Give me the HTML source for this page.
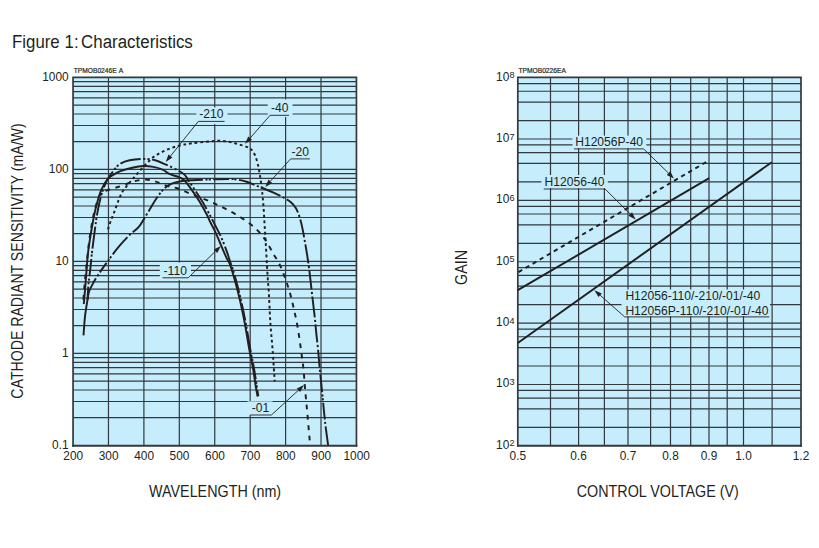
<!DOCTYPE html><html><head><meta charset="utf-8"><title>Figure 1</title>
<style>html,body{margin:0;padding:0;background:#fff;}body{width:819px;height:548px;overflow:hidden;}svg{display:block;font-family:"Liberation Sans",sans-serif;}text{fill:#231f20}</style></head><body>
<svg width="819" height="548" viewBox="0 0 819 548">
<rect x="0" y="0" width="819" height="548" fill="#fff"/>
<text transform="translate(12.10,48.10) scale(0.955,1)" font-size="17.60" text-anchor="start">Figure</text>
<text transform="translate(64.60,48.10) scale(0.950,1)" font-size="17.60" text-anchor="start">1:</text>
<text transform="translate(81.10,48.10) scale(0.960,1)" font-size="17.60" text-anchor="start">Characteristics</text>
<rect x="73.05" y="77.40" width="283.40" height="368.00" fill="#c6edfb"/>
<path d="M73.05 169.40H356.45M73.05 141.71H356.45M73.05 125.50H356.45M73.05 114.01H356.45M73.05 105.09H356.45M73.05 97.81H356.45M73.05 91.65H356.45M73.05 86.32H356.45M73.05 81.61H356.45M73.05 261.40H356.45M73.05 233.71H356.45M73.05 217.50H356.45M73.05 206.01H356.45M73.05 197.09H356.45M73.05 189.81H356.45M73.05 183.65H356.45M73.05 178.32H356.45M73.05 173.61H356.45M73.05 353.40H356.45M73.05 325.71H356.45M73.05 309.50H356.45M73.05 298.01H356.45M73.05 289.09H356.45M73.05 281.81H356.45M73.05 275.65H356.45M73.05 270.32H356.45M73.05 265.61H356.45M73.05 417.71H356.45M73.05 401.50H356.45M73.05 390.01H356.45M73.05 381.09H356.45M73.05 373.81H356.45M73.05 367.65H356.45M73.05 362.32H356.45M73.05 357.61H356.45M108.47 77.40V445.40M143.90 77.40V445.40M179.32 77.40V445.40M214.75 77.40V445.40M250.18 77.40V445.40M285.60 77.40V445.40M321.02 77.40V445.40" stroke="#33383e" stroke-width="1.2" fill="none"/>
<path d="M73.05 76.55V446.80M356.45 76.55V446.80M73.05 77.40H356.45" stroke="#33383e" stroke-width="1.7" fill="none"/>
<path d="M72.20 445.75H357.30" stroke="#33383e" stroke-width="2.1" fill="none"/>
<rect x="196.3" y="107.5" width="31.2" height="16.6" fill="#c6edfb"/>
<rect x="267.7" y="99.4" width="24.9" height="17.6" fill="#c6edfb"/>
<rect x="159.8" y="262.5" width="31.2" height="17.7" fill="#c6edfb"/>
<rect x="247.5" y="401.3" width="25.0" height="13.6" fill="#c6edfb"/>
<g fill="none" stroke="#231f20" stroke-width="1.95" stroke-linejoin="round">
<path d="M83.8 304.0C84.0 301.7 84.6 294.8 85.0 290.0C85.4 285.2 85.8 280.5 86.2 275.0C86.6 269.5 87.1 262.3 87.6 257.0C88.1 251.7 88.4 249.2 89.3 243.3C90.2 237.4 91.8 227.7 93.0 221.3C94.2 214.9 95.2 210.0 96.6 204.8C98.0 199.6 99.3 194.4 101.2 190.1C103.1 185.8 105.7 181.4 108.0 178.7C110.3 176.0 112.8 175.2 114.9 173.9C117.0 172.7 117.3 172.3 120.4 171.2C123.5 170.1 129.5 168.4 133.3 167.5C137.1 166.6 140.0 166.1 143.3 166.0C146.7 165.9 150.2 166.3 153.4 166.9C156.6 167.5 159.8 168.5 162.6 169.7C165.3 170.9 167.2 172.9 169.9 174.2C172.6 175.4 176.6 176.1 179.0 177.2C181.4 178.2 182.3 178.3 184.5 180.5C186.7 182.7 189.5 186.7 191.9 190.1C194.3 193.5 196.8 197.1 199.2 201.1C201.6 205.1 204.7 210.6 206.5 214.0C208.3 217.4 208.5 218.4 210.0 221.5C211.5 224.6 213.7 228.4 215.5 232.3C217.3 236.2 219.2 240.8 221.0 245.1C222.8 249.4 225.0 254.6 226.5 257.9C228.0 261.2 228.6 260.5 230.1 264.7C231.6 268.9 233.9 276.9 235.6 283.0C237.3 289.1 238.7 294.6 240.2 301.3C241.7 308.0 243.3 315.2 244.8 323.3C246.3 331.4 248.0 342.5 249.4 350.0C250.8 357.5 251.9 362.2 253.0 368.3C254.1 374.4 255.0 381.9 255.8 386.6C256.6 391.3 257.3 395.0 257.6 396.7"/>
<path d="M87.5 300.0C87.7 297.5 88.0 290.0 88.4 285.0C88.9 280.0 89.6 275.4 90.2 270.0C90.8 264.6 91.2 259.0 92.0 252.4C92.8 245.8 93.9 237.1 94.8 230.4C95.7 223.7 96.4 217.9 97.5 212.1C98.6 206.3 99.8 200.5 101.2 195.6C102.6 190.7 104.1 186.5 105.8 182.8C107.5 179.2 109.8 176.0 111.3 173.7C112.8 171.4 113.4 170.7 114.9 169.0C116.4 167.3 118.0 165.0 120.4 163.6C122.9 162.2 125.8 161.1 129.6 160.3C133.4 159.5 139.0 158.9 143.3 158.9C147.6 158.9 151.4 159.3 155.2 160.3C159.0 161.3 162.5 163.1 166.2 164.7C169.9 166.3 174.1 168.2 177.2 169.9C180.2 171.6 182.7 172.9 184.5 174.6C186.3 176.3 186.7 177.8 188.2 180.1C189.7 182.4 191.6 185.1 193.7 188.3C195.8 191.5 198.3 194.8 201.0 199.3C203.7 203.8 207.6 210.9 210.0 215.3C212.4 219.7 213.7 222.3 215.5 225.9C217.3 229.5 219.2 232.7 221.0 236.8C222.8 240.9 225.0 246.5 226.5 250.6C228.0 254.7 229.0 258.4 230.1 261.6C231.2 264.8 231.8 266.3 233.0 270.0C234.2 273.7 235.6 278.8 237.0 284.0C238.4 289.2 239.7 294.8 241.2 301.3C242.7 307.9 244.3 315.2 245.8 323.3C247.3 331.4 249.0 342.5 250.4 350.0C251.8 357.5 252.9 362.2 254.0 368.3C255.1 374.4 256.1 382.0 256.8 386.6C257.5 391.2 258.1 394.4 258.3 396.0" stroke-dasharray="13.3 2.5 2.2 1.5 2.2 2.5 17.1 2.5 2.2 1.2 2.2 2.5 21.8 2.5 2.2 1.9 2.2 2.5 18.3 2.5 2.2 1.4 2.2 2.5 18.2 2.5 2.2 1.7 2.2 2.5 20.8 2.5 2.2 2.1 2.2 2.5 16.8 2.5 2.2 2.7 2.2 2.5 15.9 2.5 2.2 2.2 2.2 2.5 20.3 2.5 2.2 2.0 2.2 2.5 19.1 2.5 2.2 2.0 2.2 2.5 19.6 2.5 2.2 1.5 2.2 2.5 18.0 2.5 2.2 1.6 2.2 2.5 17.4 2.5 2.2 1.7 2.2 2.5 21.1 2.5 2.2 1.9 2.2 2.5 16.1 2.5 2.2 1.4 2.2 2.5 6.3 999.0"/>
<path d="M108.0 229.5C108.5 227.8 110.1 222.7 111.3 219.5C112.5 216.3 113.7 213.5 114.9 210.3C116.1 207.1 117.4 203.2 118.6 200.2C119.8 197.1 120.8 194.6 122.3 192.0C123.8 189.4 126.0 187.0 127.8 184.7C129.6 182.4 131.2 180.7 133.3 178.2C135.4 175.7 138.2 172.6 140.6 169.9C143.0 167.2 145.5 164.4 147.9 162.1C150.3 159.8 152.1 157.9 155.2 155.9C158.2 153.9 162.2 151.7 166.2 150.0C170.2 148.3 174.7 146.8 179.0 145.7C183.3 144.6 186.7 144.0 191.9 143.3C197.1 142.6 205.4 141.9 210.0 141.5C214.6 141.1 216.1 140.8 219.2 140.8C222.2 140.8 225.2 141.2 228.3 141.7C231.4 142.2 234.4 143.2 237.5 144.0C240.6 144.8 244.3 145.9 246.6 146.8C248.9 147.7 249.8 148.1 251.2 149.5C252.6 150.9 253.8 152.7 254.9 155.0C256.0 157.3 256.8 160.4 257.6 163.3C258.4 166.2 258.9 169.4 259.5 172.4C260.1 175.4 260.4 178.3 260.9 181.6C261.3 184.9 261.8 187.8 262.2 192.0C262.6 196.2 263.1 201.1 263.5 206.6C263.9 212.1 264.2 218.3 264.6 224.9C265.0 231.5 265.4 237.2 265.9 246.0C266.4 254.8 267.2 269.2 267.7 277.5C268.2 285.8 268.6 288.2 269.0 295.8C269.4 303.4 269.8 314.3 270.4 323.3C271.0 332.3 271.9 340.3 272.6 350.0C273.3 359.7 274.4 376.2 274.7 381.5" stroke-dasharray="2.8 2.9"/>
<path d="M83.2 304.0C83.4 300.8 83.9 291.5 84.5 285.0C85.1 278.5 85.9 271.9 86.6 265.0C87.3 258.1 88.0 250.3 88.9 243.3C89.8 236.3 90.9 229.2 92.0 223.1C93.1 217.0 94.3 211.3 95.7 206.6C97.1 201.9 98.3 197.4 100.3 194.7C102.3 191.9 104.5 191.4 107.6 190.1C110.6 188.8 114.9 188.0 118.6 186.8C122.3 185.6 126.5 183.8 129.6 182.8C132.7 181.8 134.2 181.2 136.9 180.6C139.7 180.0 143.1 179.4 146.1 179.5C149.1 179.6 151.8 180.4 155.2 181.4C158.5 182.4 162.5 184.4 166.2 185.6C169.9 186.8 173.5 187.1 177.2 188.3C180.9 189.5 184.5 191.4 188.2 192.9C191.9 194.4 195.6 195.7 199.2 197.1C202.8 198.5 206.7 200.1 210.0 201.5C213.3 202.9 216.1 204.2 219.2 205.7C222.2 207.2 225.2 208.7 228.3 210.3C231.4 211.9 234.4 213.6 237.5 215.4C240.6 217.2 243.5 219.1 246.6 221.3C249.7 223.5 253.1 226.0 255.8 228.6C258.6 231.2 261.0 234.1 263.1 236.8C265.2 239.6 266.8 242.0 268.6 245.1C270.4 248.2 272.4 252.3 274.1 255.2C275.8 258.1 277.0 259.1 278.7 262.5C280.4 265.9 282.4 270.7 284.2 275.6C286.0 280.5 288.0 286.3 289.7 292.1C291.4 297.9 292.8 304.3 294.2 310.4C295.6 316.5 296.8 322.2 297.9 328.8C299.0 335.4 300.1 343.4 301.0 350.0C301.9 356.6 302.7 361.6 303.4 368.3C304.1 375.0 304.5 382.7 305.2 390.3C305.9 397.9 306.6 405.6 307.4 414.1C308.2 422.7 309.4 437.0 309.8 441.6" stroke-dasharray="4.8 5.5" stroke-dashoffset="-4.4"/>
<path d="M83.5 335.4C83.8 332.1 84.4 321.7 85.1 315.7C85.8 309.7 86.9 303.4 87.6 299.3C88.3 295.2 88.2 293.9 89.2 291.1C90.2 288.4 91.8 285.6 93.3 282.8C94.8 280.1 95.8 278.3 98.3 274.6C100.8 270.9 104.9 265.1 108.3 260.5C111.7 255.9 115.0 251.2 118.6 246.9C122.1 242.7 126.2 238.3 129.6 235.0C133.0 231.7 136.4 229.6 138.8 226.8C141.2 224.1 142.4 221.4 144.2 218.5C146.0 215.6 147.5 212.9 149.7 209.4C151.8 205.9 154.6 201.0 157.1 197.5C159.6 194.0 162.0 190.6 164.4 188.3C166.8 186.0 168.9 184.9 171.7 183.7C174.4 182.5 177.5 181.8 180.9 181.2C184.3 180.6 187.1 180.5 191.9 180.2C196.8 179.9 203.9 179.7 210.0 179.5C216.1 179.3 223.7 179.0 228.3 179.0C232.9 179.0 234.4 179.1 237.5 179.6C240.6 180.1 243.5 180.8 246.6 181.8C249.7 182.8 252.8 184.2 255.8 185.4C258.9 186.6 261.8 187.8 264.9 189.0C267.9 190.2 271.0 191.5 274.1 192.9C277.2 194.3 280.6 196.0 283.3 197.5C286.1 199.0 288.5 200.3 290.6 202.1C292.7 203.9 294.6 205.9 296.1 208.5C297.6 211.1 298.6 214.2 299.7 217.6C300.8 220.9 301.6 224.3 302.5 228.6C303.4 232.9 304.4 239.0 305.2 243.3C305.9 247.6 306.4 250.3 307.0 254.2C307.6 258.1 308.1 260.8 308.9 266.8C309.7 272.8 310.7 282.4 311.6 290.3C312.5 298.2 313.6 307.1 314.4 314.1C315.2 321.1 315.6 326.4 316.2 332.4C316.8 338.4 317.5 343.7 318.1 350.0C318.7 356.3 319.2 363.1 319.9 370.1C320.6 377.1 321.2 383.6 322.1 392.1C323.0 400.7 324.0 412.5 325.0 421.4C326.0 430.2 327.6 441.2 328.1 445.2" stroke-dasharray="59.4 2.5 2.2 2.5 11.2 2.5 2.2 1.2 2.2 2.5 22.6 2.5 2.2 2.5 19.5 2.5 2.2 2.5 17.1 2.5 2.2 1.9 2.2 2.5 39.7 2.5 2.2 1.1 2.2 2.5 15.7 2.5 2.2 0.6 2.2 2.5 16.3 2.5 2.2 2.5 20.9 2.5 2.2 2.5 17.9 2.5 2.2 2.5 18.1 2.5 2.2 2.5 19.4 2.5 2.2 2.5 18.9 2.5 2.2 2.5 20.8 2.5 2.2 2.5 18.3 2.5 2.2 2.5 17.6 2.5 2.2 2.5 17.7 2.5 2.2 1.4 2.2 2.5 16.6 2.5 2.2 2.5 19.1 999.0"/>
</g>
<text x="199.3" y="118.3" font-size="12.1">-210</text>
<path d="M198.3 121.4H224.6" stroke="#231f20" stroke-width="0.9"/>
<path d="M198.3 121.4 L170.5 156.1" stroke="#231f20" stroke-width="0.9" fill="none"/><path d="M165.7 162.0 L168.5 154.5 L172.4 157.6 Z" fill="#231f20"/>
<text x="271.1" y="112.2" font-size="12.1">-40</text>
<path d="M270.0 115.3H289.0" stroke="#231f20" stroke-width="0.9"/>
<path d="M270.1 115.3 L250.1 138.1" stroke="#231f20" stroke-width="0.9" fill="none"/><path d="M245.1 143.8 L248.2 136.4 L252.0 139.7 Z" fill="#231f20"/>
<text x="291.6" y="155.8" font-size="12.1">-20</text>
<path d="M290.6 158.9H309.8" stroke="#231f20" stroke-width="0.9"/>
<path d="M290.6 158.9 L270.4 181.2" stroke="#231f20" stroke-width="0.9" fill="none"/><path d="M265.3 186.9 L268.5 179.6 L272.2 182.9 Z" fill="#231f20"/>
<text x="163.6" y="275.4" font-size="12.1">-110</text>
<path d="M162.6 277.8H188.2" stroke="#231f20" stroke-width="0.9"/>
<path d="M188.2 277.8 L215.5 251.2" stroke="#231f20" stroke-width="0.9" fill="none"/><path d="M220.9 245.9 L217.2 253.0 L213.8 249.4 Z" fill="#231f20"/>
<text x="251.7" y="412.2" font-size="12.1">-01</text>
<path d="M250.3 415.0H271.4" stroke="#231f20" stroke-width="0.9"/>
<path d="M271.4 415.0 L298.5 390.2" stroke="#231f20" stroke-width="0.9" fill="none"/><path d="M304.1 385.1 L300.1 392.1 L296.8 388.4 Z" fill="#231f20"/>
<text transform="translate(73.25,459.50) scale(0.950,1)" font-size="12.50" text-anchor="middle">200</text>
<text transform="translate(108.67,459.50) scale(0.950,1)" font-size="12.50" text-anchor="middle">300</text>
<text transform="translate(144.10,459.50) scale(0.950,1)" font-size="12.50" text-anchor="middle">400</text>
<text transform="translate(179.52,459.50) scale(0.950,1)" font-size="12.50" text-anchor="middle">500</text>
<text transform="translate(214.95,459.50) scale(0.950,1)" font-size="12.50" text-anchor="middle">600</text>
<text transform="translate(250.38,459.50) scale(0.950,1)" font-size="12.50" text-anchor="middle">700</text>
<text transform="translate(285.80,459.50) scale(0.950,1)" font-size="12.50" text-anchor="middle">800</text>
<text transform="translate(321.22,459.50) scale(0.950,1)" font-size="12.50" text-anchor="middle">900</text>
<text transform="translate(356.65,459.50) scale(0.950,1)" font-size="12.50" text-anchor="middle">1000</text>
<text transform="translate(68.60,81.30) scale(0.950,1)" font-size="12.50" text-anchor="end">1000</text>
<text transform="translate(68.60,173.30) scale(0.950,1)" font-size="12.50" text-anchor="end">100</text>
<text transform="translate(68.60,265.30) scale(0.950,1)" font-size="12.50" text-anchor="end">10</text>
<text transform="translate(68.60,357.30) scale(0.950,1)" font-size="12.50" text-anchor="end">1</text>
<text transform="translate(68.60,449.30) scale(0.950,1)" font-size="12.50" text-anchor="end">0.1</text>
<text x="73.8" y="73.1" font-size="7.1" stroke="#231f20" stroke-width="0.2" textLength="42.8" lengthAdjust="spacingAndGlyphs">TPMOB0246E</text>
<text x="118.7" y="73.1" font-size="7.1" stroke="#231f20" stroke-width="0.2" textLength="4.5" lengthAdjust="spacingAndGlyphs">A</text>
<text transform="translate(215.10,496.90) scale(0.885,1)" font-size="16.20" text-anchor="middle">WAVELENGTH (nm)</text>
<text transform="translate(23.2,261) rotate(-90) scale(0.872,1)" font-size="16.2" text-anchor="middle">CATHODE RADIANT SENSITIVITY (mA/W)</text>
<rect x="517.80" y="77.40" width="283.20" height="368.20" fill="#c6edfb"/>
<path d="M517.80 427.38H801.00M517.80 408.90H801.00M517.80 398.10H801.00M517.80 390.43H801.00M517.80 384.48H801.00M517.80 366.01H801.00M517.80 347.54H801.00M517.80 336.73H801.00M517.80 329.06H801.00M517.80 323.12H801.00M517.80 304.64H801.00M517.80 286.17H801.00M517.80 275.36H801.00M517.80 267.70H801.00M517.80 261.75H801.00M517.80 243.28H801.00M517.80 224.80H801.00M517.80 214.00H801.00M517.80 206.33H801.00M517.80 200.38H801.00M517.80 181.91H801.00M517.80 163.44H801.00M517.80 152.63H801.00M517.80 144.96H801.00M517.80 139.02H801.00M517.80 120.54H801.00M517.80 102.07H801.00M517.80 91.26H801.00M517.80 83.60H801.00M550.50 77.40V445.60M578.60 77.40V445.60M604.40 77.40V445.60M628.00 77.40V445.60M650.60 77.40V445.60M670.50 77.40V445.60M690.70 77.40V445.60M709.00 77.40V445.60M727.20 77.40V445.60M743.50 77.40V445.60M772.10 77.40V445.60" stroke="#33383e" stroke-width="1.2" fill="none"/>
<path d="M517.80 76.55V446.80M801.00 76.55V446.80M517.80 77.40H801.00" stroke="#33383e" stroke-width="1.7" fill="none"/>
<path d="M516.95 445.75H801.85" stroke="#33383e" stroke-width="2.1" fill="none"/>
<rect x="572.5" y="135.6" width="73.8" height="12.6" fill="#c6edfb"/>
<rect x="541.4" y="175.0" width="66.4" height="13.3" fill="#c6edfb"/>
<rect x="621.5" y="289.5" width="148.5" height="26.7" fill="#c6edfb"/>
<g fill="none" stroke="#231f20" stroke-width="1.95">
<path d="M517.8 272.5L706.6 161.8" stroke-dasharray="4.3 3.9" stroke-dashoffset="-0.8"/>
<path d="M517.8 290.2L709.2 178.2"/>
<path d="M517.8 343L771.8 162.2"/>
</g>
<text x="575.2" y="145.7" font-size="12.1">H12056P-40</text>
<path d="M574.0 148.9H643.6" stroke="#231f20" stroke-width="0.9"/>
<path d="M643.6 148.9 L668.5 173.1" stroke="#231f20" stroke-width="0.9" fill="none"/><path d="M673.9 178.4 L666.8 174.9 L670.2 171.3 Z" fill="#231f20"/>
<text x="544.6" y="185.7" font-size="12.1">H12056-40</text>
<path d="M543.7 189.0H605.1" stroke="#231f20" stroke-width="0.9"/>
<path d="M605.1 189.0 L630.3 214.1" stroke="#231f20" stroke-width="0.9" fill="none"/><path d="M635.6 219.4 L628.5 215.8 L632.0 212.3 Z" fill="#231f20"/>
<text x="625.4" y="300.2" font-size="12.1">H12056-110/-210/-01/-40</text>
<text x="625.4" y="314.8" font-size="12.1">H12056P-110/-210/-01/-40</text>
<path d="M624.7 316.9H769.3" stroke="#231f20" stroke-width="0.9"/>
<path d="M624.7 316.9 L600.1 295.2" stroke="#231f20" stroke-width="0.9" fill="none"/><path d="M594.4 290.2 L601.8 293.4 L598.5 297.1 Z" fill="#231f20"/>
<text transform="translate(517.80,459.50) scale(0.950,1)" font-size="12.50" text-anchor="middle">0.5</text>
<text transform="translate(578.60,459.50) scale(0.950,1)" font-size="12.50" text-anchor="middle">0.6</text>
<text transform="translate(628.00,459.50) scale(0.950,1)" font-size="12.50" text-anchor="middle">0.7</text>
<text transform="translate(670.50,459.50) scale(0.950,1)" font-size="12.50" text-anchor="middle">0.8</text>
<text transform="translate(709.00,459.50) scale(0.950,1)" font-size="12.50" text-anchor="middle">0.9</text>
<text transform="translate(743.50,459.50) scale(0.950,1)" font-size="12.50" text-anchor="middle">1.0</text>
<text transform="translate(801.00,459.50) scale(0.950,1)" font-size="12.50" text-anchor="middle">1.2</text>
<text transform="translate(509.30,448.70) scale(0.950,1)" font-size="12.50" text-anchor="end">10</text>
<text transform="translate(509.40,446.40) scale(0.950,1)" font-size="9.60" text-anchor="start">2</text>
<text transform="translate(509.30,387.33) scale(0.950,1)" font-size="12.50" text-anchor="end">10</text>
<text transform="translate(509.40,385.03) scale(0.950,1)" font-size="9.60" text-anchor="start">3</text>
<text transform="translate(509.30,325.97) scale(0.950,1)" font-size="12.50" text-anchor="end">10</text>
<text transform="translate(509.40,323.67) scale(0.950,1)" font-size="9.60" text-anchor="start">4</text>
<text transform="translate(509.30,264.60) scale(0.950,1)" font-size="12.50" text-anchor="end">10</text>
<text transform="translate(509.40,262.30) scale(0.950,1)" font-size="9.60" text-anchor="start">5</text>
<text transform="translate(509.30,203.23) scale(0.950,1)" font-size="12.50" text-anchor="end">10</text>
<text transform="translate(509.40,200.93) scale(0.950,1)" font-size="9.60" text-anchor="start">6</text>
<text transform="translate(509.30,141.87) scale(0.950,1)" font-size="12.50" text-anchor="end">10</text>
<text transform="translate(509.40,139.57) scale(0.950,1)" font-size="9.60" text-anchor="start">7</text>
<text transform="translate(509.30,80.50) scale(0.950,1)" font-size="12.50" text-anchor="end">10</text>
<text transform="translate(509.40,78.20) scale(0.950,1)" font-size="9.60" text-anchor="start">8</text>
<text x="518.4" y="73.1" font-size="7.1" stroke="#231f20" stroke-width="0.2" textLength="47.5" lengthAdjust="spacingAndGlyphs">TPMOB0226EA</text>
<text transform="translate(657.80,496.90) scale(0.885,1)" font-size="16.20" text-anchor="middle">CONTROL VOLTAGE (V)</text>
<text transform="translate(466.6,267.4) rotate(-90) scale(0.885,1)" font-size="16.2" text-anchor="middle">GAIN</text>
</svg></body></html>
